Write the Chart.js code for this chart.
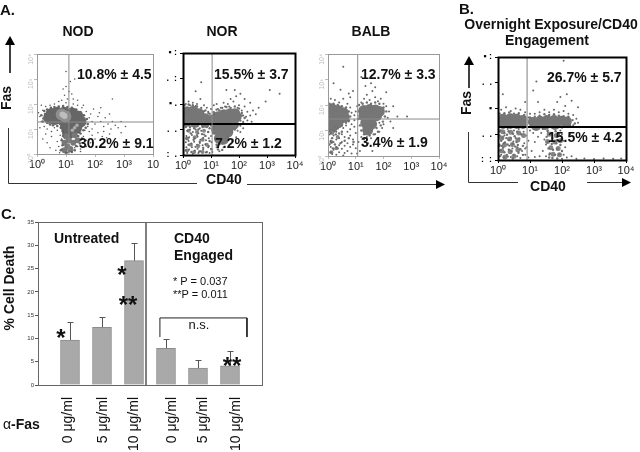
<!DOCTYPE html>
<html>
<head>
<meta charset="utf-8">
<script src="https://cdn.jsdelivr.net/npm/chart.js@4"></script>
<style>
  html, body { margin: 0; padding: 0; background: #fff; overflow: hidden; }
  #page { position: relative; width: 640px; height: 452px; overflow: hidden; font-family: "Liberation Sans", Arial, sans-serif; color: #111; }
  canvas { position: absolute; }
  svg { position: absolute; left: 0; top: 0; }
  .t { position: absolute; white-space: nowrap; transform: translateY(-50%); line-height: 1; }
  .c { transform: translate(-50%, -50%); }
  .b { font-weight: bold; }
  .pct { font-weight: bold; font-size: 14px; }
  .rot { transform: translate(-50%, -50%) rotate(-90deg); }
</style>
</head>
<body>
<div id="page">
  <canvas id="nod" width="160" height="132" style="left:7px;top:46px"></canvas>
  <canvas id="nor" width="156" height="134" style="left:153px;top:45px"></canvas>
  <canvas id="balb" width="155" height="134" style="left:298px;top:46px"></canvas>
  <canvas id="engaged" width="172" height="135" style="left:468px;top:49px"></canvas>
  <canvas id="death" width="264" height="238" style="left:8px;top:214px"></canvas>

  <svg width="640" height="452">
    <g stroke="#333" fill="none" stroke-width="1">
      <path d="M8.5 128V183.5H197"/>
      <path d="M247 184.5H438" stroke-width="1.2"/>
      <path d="M468.5 132V182.5H518"/>
      <path d="M587 182.5H623" stroke-width="1.2"/>
      <path d="M10 73V44" stroke="#000" stroke-width="1.5"/>
      <path d="M469 88V64" stroke="#000" stroke-width="1.5"/>
    </g>
    <g fill="#000">
      <path d="M10 36L5 45H15Z"/>
      <path d="M469 56L464 65H474Z"/>
      <path d="M445 184.5L436 180V189Z"/>
      <path d="M631 182.5L622 178V187Z"/>
    </g>
  </svg>

  <div class="t b" style="left:0;top:9px;font-size:15px">A.</div>
  <div class="t b c" style="left:78px;top:31px;font-size:14px">NOD</div>
  <div class="t b c" style="left:222px;top:31px;font-size:14px">NOR</div>
  <div class="t b c" style="left:371px;top:31px;font-size:14px">BALB</div>
  <div class="t b" style="left:459px;top:8px;font-size:15px">B.</div>
  <div class="t b c" style="left:551px;top:24px;font-size:14px">Overnight Exposure/CD40</div>
  <div class="t b c" style="left:547px;top:40px;font-size:14px">Engagement</div>

  <div class="t pct" style="left:77px;top:74px">10.8% ± 4.5</div>
  <div class="t pct" style="left:79px;top:143px">30.2% ± 9.1</div>
  <div class="t pct" style="left:214px;top:74px">15.5% ± 3.7</div>
  <div class="t pct" style="left:215px;top:143px">7.2% ± 1.2</div>
  <div class="t pct" style="left:361px;top:74px">12.7% ± 3.3</div>
  <div class="t pct" style="left:361px;top:142px">3.4% ± 1.9</div>
  <div class="t pct" style="left:547px;top:77px">26.7% ± 5.7</div>
  <div class="t pct" style="left:548px;top:137px">15.5% ± 4.2</div>

  <div class="t b rot" style="left:6px;top:98px;font-size:14px">Fas</div>
  <div class="t b rot" style="left:466px;top:103px;font-size:14px">Fas</div>
  <div class="t b c" style="left:224px;top:179px;font-size:14px">CD40</div>
  <div class="t b c" style="left:548px;top:186px;font-size:14px">CD40</div>

  <div class="t b" style="left:1px;top:213px;font-size:15px">C.</div>
  <div class="t b rot" style="left:9px;top:288px;font-size:14px">% Cell Death</div>
  <div class="t b" style="left:54px;top:238px;font-size:14px">Untreated</div>
  <div class="t b" style="left:174px;top:238px;font-size:14px">CD40</div>
  <div class="t b" style="left:174px;top:255px;font-size:14px">Engaged</div>
  <div class="t" style="left:173px;top:281px;font-size:11px">* P = 0.037</div>
  <div class="t" style="left:173px;top:294px;font-size:11px">**P = 0.011</div>
  <div class="t c" style="left:199px;top:324px;font-size:13px">n.s.</div>
  <div class="t c b" style="left:61px;top:338px;font-size:24px">*</div>
  <div class="t c b" style="left:122px;top:275px;font-size:24px">*</div>
  <div class="t c b" style="left:128px;top:305px;font-size:24px">**</div>
  <div class="t c b" style="left:232px;top:366px;font-size:24px">**</div>
  <div class="t" style="left:3px;top:424px;font-size:14px">α<span class="b">-Fas</span></div>
</div>

<script>
// Flow panels: positions are log10 decades on both axes
const decadeTicks = [0, 1, 2, 3, 4];
const xLabels = ["10⁰", "10¹", "10²", "10³", "10⁴"];
const nodXLabels = ["10⁰", "10¹", "10²", "10³", "10"];
const fadedYLabels = ["10⁰", "10¹", "10²", "10³", "10⁴"];
const norYLabels = [":  .", ".  .", "▪ .", ".  :", "▪ :"];
const engagedYLabels = [":  :", ".  .", "▪", ".  .", "▪ :"];

const nodGate = [1.1, 1.28];
const norGate = [1.04, 1.22];
const balbGate = [1.07, 1.45];
const engagedGate = [0.91, 1.28];

const nodCore = [[.5,1.6],[.69,1.65],[.93,1.65],[1.21,1.62],[1.4,1.5],[1.5,1.3],[.42,1.45],[.62,1.4],[.9,1.36],[1.17,1.32],[1.4,1.2],[1.17,1.04],[1.35,1.04],[1,1.12],[1.07,.84]];
const nodTail = [[1,.7],[1.1,.55],[.95,.45],[1.05,.3],[1.15,.2],[1.25,.45],[1.3,.75],[.95,.15],[1.4,.55]];
const nodHalo = [[.85,1.58],[.98,1.5]];
const nodLight = [[.88,1.58],[.95,1.52]];
const nodStreak = [[1.22,.95],[1.3,1.05],[1.38,1.15]];
const nodDense = [[.15,1.55],[.22,1.42],[.28,1.6],[.25,1.72],[.35,1.78],[.48,1.85],[.6,1.88],[.75,1.9],[.9,1.92],[1.05,1.88],[1.2,1.85],[1.35,1.78],[1.5,1.68],[1.62,1.55],[1.72,1.4],[1.75,1.2],[1.68,1.05],[1.6,.95],[1.5,.82],[1.42,.72],[1.35,.92],[.35,1.25],[.45,1.18],[.55,1.15],[.7,1.12],[.82,1.05],[.88,.92],[.9,.72],[.85,.55],[.88,.35],[.82,.15],[1.2,.08],[1.3,.15],[1.35,.32],[1.48,.42],[1.55,.62],[1,.05],[1.1,.1],[.2,1.3]];
const nodDots = [[1.05,2.2],[.95,2.35],[1.1,2.5],[1,2.7],[1.2,2.4],[.85,2.15],[1.15,2.9],[1.3,3],[1,3.3],[.9,2.6],[1.25,2.2],[.75,2.1],[1.4,2.15],[2.1,1.5],[2.2,1.3],[2.3,1.1],[2.35,1.45],[2.45,1.2],[2.5,1.6],[2.55,1],[2.6,1.3],[2.7,1.15],[2.8,1.05],[2.5,.8],[2.3,.9],[2.1,.85],[2.4,.65],[2.9,1.3],[1.9,1],[2,1.2],[1.85,1.6],[1.9,.75],[2.2,1.85],[2.6,2.2],[2.9,.85],[3.05,1.1],[.1,1.5],[.15,1.3],[.05,1.65],[.2,1.75],[.25,1.1],[.35,1],[.3,1.9],[.45,1.95],[.6,2],[.5,.9],[.7,.95],[.6,1.05],[.2,.6],[.35,.45],[.5,.7],[.45,.25],[.7,.5],[.75,.3],[.65,.15],[.8,.75],[.85,.6],[.85,.2],[.9,.9],[.78,.05],[1.2,.1],[1.3,.25],[1.4,.3],[1.5,.2],[1.55,.45],[1.6,.7],[1.7,.55],[1.8,.9],[1.65,.95],[1.75,1.1],[1.9,1.3],[1.8,1.45],[1.7,1.7],[1.55,1.85],[1.4,1.95],[1.25,2],[1,2.05],[.15,1.95],[.1,1.05],[.3,.8],[1.45,.85],[1.5,.1],[1.05,.05],[1.6,1.95],[1.95,1.8],[2.15,1.65],[2.25,.7],[1.7,.3],[1.85,.45],[2,.6],[1.2,.65]];

const norCore = [[.14,1.7],[.36,1.72],[.57,1.62],[.14,1.49],[.36,1.45],[.57,1.45],[.79,1.42],[.14,1.32],[.43,1.28],[.79,1.28],[1.04,1.37],[1.25,1.5],[1.46,1.58],[1.68,1.62],[1.85,1.62],[1.25,1.29],[1.5,1.37],[1.75,1.42],[1.9,1.5],[1.39,1.06],[1.64,1.12],[1.8,1.2],[1.2,1],[1.39,.82],[1.6,.9],[1.3,.65],[1.45,.62]];
const norMid = [[.2,.95],[.5,.9],[.75,.95],[.15,.65],[.42,.7],[.7,.6],[.28,.4],[.55,.35],[.85,.4],[.15,.18],[.4,.12],[.7,.12]];
const norDense = [[.05,1.95],[.2,1.98],[.35,1.95],[.5,1.9],[.65,1.85],[.8,1.75],[.95,1.62],[1.1,1.68],[1.2,1.78],[1.3,1.75],[1.4,1.85],[1.55,1.88],[1.7,1.85],[1.85,1.9],[2,1.82],[2.1,1.65],[2.2,1.45],[2.15,1.25],[2.05,1.35],[2.1,1.55],[1.98,1.2],[1.85,1],[1.75,.95],[1.6,.7],[1.55,.55],[1.4,.45],[1.3,.42],[1.2,.4],[1.15,.65],[1.08,.85],[1.1,1.1],[.95,1.05],[.85,1.1],[.7,1.1],[.55,1],[.4,1.05],[.25,1.1],[.1,1.1],[.05,1.3],[.05,1.6],[.9,.9],[.68,.82],[.5,.78],[.28,.85],[.12,.65],[.38,.6],[.6,.52],[.8,.75],[.95,.55],[.2,.4],[.45,.32],[.72,.28],[.92,.35],[.1,.18],[.3,.12],[.58,.14],[.85,.12],[1.02,.22],[1.25,.22],[1.4,.2]];
const norDots = [[.1,2],[.2,2.1],[.35,2.05],[.5,2],[.62,2.2],[.75,1.95],[.85,1.85],[.9,1.7],[1,1.8],[1.1,1.95],[1.2,2],[1.35,1.85],[1.45,2.05],[1.6,2],[1.7,2.2],[1.8,2.1],[1.9,2.3],[2,1.95],[2.1,1.75],[2.2,1.9],[2.3,1.7],[2.4,1.55],[2.5,1.75],[2.6,1.6],[2.7,1.85],[2.3,1.35],[2.15,1.3],[2.45,1.3],[2.2,2.2],[2.05,2.4],[1.55,2.55],[1.85,2.55],[2.4,2.05],[3.1,2.55],[3.45,2.4],[2.95,2.1],[.65,2.85],[.45,2.5],[.15,.95],[.25,1],[.35,.9],[.45,1],[.55,.85],[.65,.95],[.75,.8],[.9,.9],[1,.75],[.12,.75],[.22,.7],[.32,.78],[.42,.65],[.52,.72],[.62,.6],[.72,.68],[.82,.58],[.92,.66],[1.02,.5],[.1,.5],[.2,.55],[.3,.45],[.4,.52],[.5,.4],[.6,.47],[.7,.38],[.8,.42],[.9,.3],[1,.25],[1.05,.12],[.12,.3],[.22,.22],[.32,.3],[.42,.18],[.52,.25],[.62,.15],[.72,.22],[.82,.1],[.15,.08],[.35,.05],[.55,.08],[.95,.08],[1.2,.3],[1.3,.15],[1.45,.3],[1.75,.55],[1.9,.7],[2.05,.9],[2.15,1.05],[2.05,1.15],[1.95,.95],[.6,1.05],[1,1.15],[.9,1.65],[1.1,1.6],[.75,1.72],[1.65,1.9],[1.95,1.85],[2.15,1.55],[2.25,1.5],[.45,1.92],[.25,1.95],[1.25,1.8],[1.5,1.9]];

const balbCore = [[.14,1.85],[.36,1.78],[.55,1.7],[.14,1.61],[.36,1.53],[.58,1.52],[.14,1.33],[.36,1.3],[.14,1.1],[1.29,1.78],[1.5,1.82],[1.71,1.8],[1.85,1.75],[1.29,1.57],[1.54,1.57],[1.75,1.58],[1.36,1.29],[1.57,1.25],[1.43,1.02]];
const balbMid = [[.15,.9],[.35,.75],[.12,.55],[.3,.3],[.12,.15]];
const balbDense = [[.05,2.05],[.2,2.05],[.35,2],[.5,1.95],[.65,1.9],[.75,1.75],[.8,1.55],[.75,1.4],[.65,1.3],[.5,1.2],[.55,1.35],[.25,1.15],[1.12,2],[1.25,2.05],[1.4,2.1],[1.55,2.05],[1.7,2.1],[1.85,2.05],[2,1.9],[2.1,1.75],[2.05,1.55],[1.98,1.35],[1.9,1.2],[1.75,1.1],[1.8,.95],[1.65,.85],[1.5,.8],[1.3,.85],[1.2,1],[1.15,1.2],[1.1,1.45],[1.12,1.75],[.05,1],[.2,1],[.35,1.08],[.05,.85],[.15,.7],[.28,.85],[.05,.45],[.1,.15],[.25,.45],[.4,.88],[.12,.55],[.35,.3],[.18,.3],[.45,.5],[.6,.6],[.75,.7],[.92,.55],[.5,.95]];
const balbDots = [[.1,2.25],[.25,2.2],[.4,2.1],[.55,2.25],[.7,2.05],[.8,1.9],[.85,1.7],[.95,1.6],[.75,1.35],[.85,1.25],[.95,1.4],[.8,2.3],[.45,2.6],[.2,2.85],[.75,2.45],[.9,2.55],[1.2,2.1],[1.3,2.25],[1.4,2.4],[1.5,2.2],[1.6,2.55],[1.7,2.3],[1.8,2.15],[1.9,2.25],[2,2.05],[2.1,1.95],[2.2,1.75],[2.15,1.5],[2.25,1.35],[1.35,2.75],[1.55,2.85],[1.7,2.7],[2.35,1.95],[2.5,1.55],[2.85,1.55],[1.2,3.1],[.55,3.5],[2.1,2.5],[.1,.9],[.2,.8],[.3,.95],[.4,.7],[.5,.85],[.6,.75],[.7,.95],[.8,.8],[.9,.65],[1,.9],[.1,.6],[.2,.55],[.3,.65],[.4,.42],[.5,.55],[.6,.4],[.7,.5],[.8,.35],[.9,.45],[1,.3],[.1,.35],[.2,.25],[.3,.35],[.4,.15],[.5,.28],[.6,.12],[.7,.2],[.85,.1],[.15,.08],[.3,.05],[.55,.02],[1.05,.1],[1.2,.75],[1.3,.65],[1.4,.75],[1.55,.7],[1.7,.85],[1.85,.95],[1.95,1.1],[1.25,.45],[1.45,.5],[1.65,.4],[1.1,.55],[1.85,1.3],[2,1.25],[.55,1.1],[.65,1.2],[.8,1.05],[.95,1.15],[1,1.75],[1.05,1.95],[2.35,1.1],[1.6,.2],[1.15,.2]];

const engagedCore = [[.16,1.6],[.38,1.62],[.59,1.6],[.78,1.55],[.16,1.4],[.38,1.4],[.59,1.4],[.78,1.4],[1.09,1.48],[1.31,1.52],[1.53,1.55],[1.75,1.55],[1.97,1.52],[2.15,1.5],[1.19,1.32],[1.47,1.36],[1.78,1.36]];
const engagedMid = [[.15,1.1],[.4,1.08],[.65,1.05],[.12,.85],[.36,.82],[.62,.78],[.2,.58],[.45,.6],[.12,.35],[.38,.32],[.62,.4],[.22,.12],[.5,.15],[.8,.95],[1.6,1],[1.82,.95],[1.55,.72],[1.78,.7],[1.95,.75],[1.65,.48],[1.88,.45],[1.72,.22],[1.92,.2]];
const engagedDense = [[.08,1.15],[.2,1.05],[.33,1.12],[.47,1.02],[.6,1.1],[.72,1],[.05,.95],[.15,.88],[.28,.98],[.4,.86],[.52,.92],[.66,.84],[.1,.75],[.22,.68],[.34,.78],[.46,.62],[.58,.7],[.05,.55],[.16,.48],[.3,.6],[.42,.35],[.54,.52],[.7,.42],[.08,.38],[.2,.3],[.34,.4],[.5,.2],[.64,.28],[.78,.2],[.06,.15],[.18,.1],[.3,.14],[.46,.06],[.12,.55],[.26,.85],[.78,.55],[.9,.5],[.62,.58],[1.55,1.15],[1.65,1.05],[1.8,1.12],[1.9,1],[1.52,.9],[1.7,.85],[1.85,.9],[1.98,.8],[1.55,.7],[1.68,.62],[1.82,.65],[1.95,.58],[1.58,.45],[1.72,.4],[1.85,.42],[2,.35],[1.62,.25],[1.78,.2],[1.92,.22],[1.7,.08],[1.85,.06],[1.6,.1],[.05,1.8],[.2,1.82],[.35,1.85],[.5,1.8],[.65,1.82],[.82,1.75],[1,1.65],[1.15,1.68],[1.3,1.72],[1.45,1.78],[1.6,1.75],[1.75,1.78],[1.9,1.72],[2.05,1.7],[2.2,1.68],[2.33,1.55],[2.4,1.42],[2.25,1.35],[2.05,1.35],[1.95,1.3]];
const engagedDots = [[.1,1.95],[.25,2.05],[.4,1.9],[.55,2],[.7,1.95],[.85,1.85],[1,1.8],[.95,1.65],[1.15,1.8],[1.3,1.85],[1.45,1.95],[1.6,1.85],[1.75,1.95],[1.9,1.85],[2.05,1.9],[2.2,1.8],[2.35,1.75],[2.45,1.6],[2.5,1.45],[2.35,1.35],[2.2,1.3],[2,1.25],[2.1,2.1],[1.85,2.25],[1.95,2.45],[2.15,2.55],[1.25,2.25],[1.1,2.7],[1.2,3.05],[.15,2.55],[.85,2.25],[2.5,2.05],[2.3,2.3],[2.05,3.85],[.05,1.1],[.2,.95],[.3,1.2],[.5,1.15],[.55,.85],[.65,1.2],[.8,1.1],[.9,.95],[1,1.15],[1.1,1.05],[.95,.75],[.82,.65],[.85,.45],[.6,.5],[.45,.45],[.35,.55],[.28,.2],[.05,.6],[.1,.2],[.4,.12],[.6,.15],[.7,.08],[.85,.2],[.95,.1],[1.05,.35],[1.15,.7],[1.25,.9],[1.35,1.05],[1.45,.8],[1.5,.6],[1.4,.35],[1.5,.15],[1.55,1.1],[2,1],[2.05,.75],[2.1,.5],[2.05,.2],[2,.05],[2.15,.1],[2.3,.15],[2.45,.05],[2.7,.06],[3,.04],[3.3,.06],[3.6,.05],[3.85,.06],[1.3,.15],[1.15,.12],[.75,.35],[.18,.65],[.48,.72],[1.6,.2],[1.95,1.15],[2.25,1],[1.65,.75],[1.4,1.2]];

// Panel C
const barPositions = [1, 2, 3, 4, 5, 6];
const cellDeath = [9.66, 12.4, 26.7, 7.9, 3.65, 4.1];
const cellDeathTop = [13.5, 14.5, 30.5, 9.9, 5.4, 7.3];
const dosePositions = [0.95, 2.05, 3, 4.2, 5.15, 6.2];
const doseLabels = ["0 μg/ml", "5 μg/ml", "10 μg/ml", "0 μg/ml", "5 μg/ml", "10 μg/ml"];
const dividerX = [3.375, 3.375];
const dividerY = [0, 35];
const bracketX = [3.81, 3.81, 6.53, 6.53];
const bracketY = [10.3, 14.4, 14.4, 10.3];

function toPoints(list) {
  return list.map(p => ({ x: p[0], y: p[1] }));
}

function zip(xs, ys) {
  return xs.map((x, i) => ({ x: x, y: ys[i] }));
}

// Axes get a fixed size so the plot area is known, and tick labels stay inside the clip
function fixedAxis(size) {
  return scale => {
    if (scale.isHorizontal()) scale.height = size; else scale.width = size;
    scale.paddingLeft = scale.paddingRight = scale.paddingTop = scale.paddingBottom = 0;
  };
}

// Draws the box around the plot
const framePlugin = {
  id: "frame",
  afterDraw(chart, args, opts) {
    const a = chart.chartArea, ctx = chart.ctx;
    ctx.save();
    ctx.strokeStyle = opts.color;
    ctx.lineWidth = opts.width;
    ctx.strokeRect(a.left + 0.5, a.top + 0.5, a.right - a.left, a.bottom - a.top);
    ctx.restore();
  }
};
Chart.register(framePlugin);

// Error bars from the value to the upper limit
const errorBarPlugin = {
  id: "errorBars",
  afterDatasetsDraw(chart) {
    if (chart.canvas.id !== "death") return;
    const ctx = chart.ctx, x = chart.scales.x, y = chart.scales.y;
    ctx.save();
    ctx.strokeStyle = "#555";
    ctx.lineWidth = 1;
    barPositions.forEach((pos, i) => {
      const px = Math.round(x.getPixelForValue(pos)) + 0.5;
      const y0 = y.getPixelForValue(cellDeath[i]);
      const y1 = Math.round(y.getPixelForValue(cellDeathTop[i])) + 0.5;
      ctx.beginPath();
      ctx.moveTo(px, y0);
      ctx.lineTo(px, y1);
      ctx.moveTo(px - 3, y1);
      ctx.lineTo(px + 3, y1);
      ctx.stroke();
    });
    ctx.restore();
  }
};
Chart.register(errorBarPlugin);

function gateLines(gate, vColor, vWidth, hColor, hWidth) {
  return [
    { data: zip([gate[0], gate[0]], [0, 4]), showLine: true, pointRadius: 0, borderColor: vColor, borderWidth: vWidth },
    { data: zip([0, 4], [gate[1], gate[1]]), showLine: true, pointRadius: 0, borderColor: hColor, borderWidth: hWidth }
  ];
}

function dots(list, color, radius) {
  return { data: toPoints(list), pointRadius: radius, pointBackgroundColor: color, pointBorderWidth: 0 };
}

function flowChart(id, datasets, cfg) {
  new Chart(id, {
    type: "scatter",
    data: { datasets: datasets },
    options: {
      responsive: false,
      animation: false,
      layout: { padding: { left: 0, right: 14, top: 8, bottom: 0 } },
      plugins: {
        legend: { display: false },
        tooltip: { enabled: false },
        frame: { color: cfg.frameColor, width: cfg.frameWidth }
      },
      scales: {
        x: {
          type: "linear", min: 0, max: 4,
          afterBuildTicks: s => { s.ticks = decadeTicks.map(v => ({ value: v })); },
          afterFit: fixedAxis(24),
          grid: { display: true, drawOnChartArea: false, tickLength: 3, tickColor: cfg.tickColor },
          border: { display: false },
          ticks: {
            color: "#222", font: { family: "Liberation Sans", size: 11 }, padding: 1, maxRotation: 0,
            callback: (v, i) => cfg.xLabels[i]
          }
        },
        y: {
          type: "linear", min: 0, max: 4,
          afterBuildTicks: s => { s.ticks = decadeTicks.map(v => ({ value: v })); },
          afterFit: fixedAxis(30),
          grid: { display: true, drawOnChartArea: false, tickLength: 3, tickColor: cfg.tickColor },
          border: { display: false },
          ticks: {
            color: cfg.yColor, font: { family: "Liberation Sans", size: cfg.ySize, weight: cfg.yWeight }, padding: cfg.yPad, minRotation: cfg.yRot, maxRotation: cfg.yRot,
            callback: (v, i) => cfg.yLabels[i]
          }
        }
      }
    }
  });
}

const coreGray = "#767676";
const midGray = "#858585";

flowChart("nod", [
  ...gateLines(nodGate, "#8a8a8a", 1, "#8a8a8a", 1),
  dots(nodLight, "#bdbdbd", 3),
  dots(nodHalo, "#8f8f8f", 6),
  dots(nodStreak, "#aaaaaa", 1.8),
  dots(nodDots, "#555", 0.8),
  dots(nodDense, "#666", 1.3),
  dots(nodTail, "#787878", 3),
  dots(nodCore, "#666666", 6)
], { frameColor: "#999", frameWidth: 1, tickColor: "#bbb",
  xLabels: nodXLabels, yLabels: fadedYLabels, yColor: "#bbb", ySize: 7, yWeight: "normal", yPad: 3, yRot: 90 });

flowChart("nor", [
  ...gateLines(norGate, "#888", 1, "#000", 2),
  dots(norDots, "#666", 1),
  dots(norDense, "#707070", 1.2),
  dots(norMid, midGray, 2),
  dots(norCore, coreGray, 5.5)
], { frameColor: "#000", frameWidth: 2, tickColor: "#000",
  xLabels: xLabels, yLabels: norYLabels, yColor: "#000", ySize: 9, yWeight: "bold", yPad: 3, yRot: 0 });

flowChart("balb", [
  ...gateLines(balbGate, "#8a8a8a", 1, "#8a8a8a", 1),
  dots(balbDots, "#666", 1),
  dots(balbDense, "#707070", 1.2),
  dots(balbMid, midGray, 2),
  dots(balbCore, coreGray, 5.5)
], { frameColor: "#999", frameWidth: 1, tickColor: "#bbb",
  xLabels: xLabels, yLabels: fadedYLabels, yColor: "#bbb", ySize: 7, yWeight: "normal", yPad: 3, yRot: 90 });

flowChart("engaged", [
  ...gateLines(engagedGate, "#aaa", 1.5, "#000", 2),
  dots(engagedDots, "#666", 1),
  dots(engagedDense, "#707070", 1.2),
  dots(engagedMid, midGray, 2.5),
  dots(engagedCore, coreGray, 5)
], { frameColor: "#000", frameWidth: 2, tickColor: "#000",
  xLabels: xLabels, yLabels: engagedYLabels, yColor: "#000", ySize: 9, yWeight: "bold", yPad: 3, yRot: 0 });

new Chart("death", {
  type: "bar",
  data: {
    datasets: [
      { type: "line", data: zip(dividerX, dividerY), borderColor: "#555", borderWidth: 1.5, pointRadius: 0 },
      { type: "line", data: zip(bracketX, bracketY), borderColor: "#222", borderWidth: 1, pointRadius: 0 },
      { data: zip(barPositions, cellDeath), backgroundColor: "#a9a9a9", borderColor: "#8c8c8c", borderWidth: 1, barThickness: 19 }
    ]
  },
  options: {
    responsive: false,
    animation: false,
    layout: { padding: { left: 0, right: 10, top: 8, bottom: 0 } },
    plugins: {
      legend: { display: false },
      tooltip: { enabled: false },
      frame: { color: "#666", width: 1 }
    },
    scales: {
      x: {
        type: "linear", min: 0, max: 7, offset: false,
        afterBuildTicks: s => { s.ticks = dosePositions.map(v => ({ value: v })); },
        afterFit: fixedAxis(67),
        grid: { display: false, drawTicks: false },
        border: { display: false },
        ticks: {
          color: "#111", font: { family: "Liberation Sans", size: 14 }, padding: 12, autoSkip: false, minRotation: 90, maxRotation: 90,
          callback: (v, i) => doseLabels[i]
        }
      },
      y: {
        min: 0, max: 35,
        afterFit: fixedAxis(30),
        grid: { display: true, drawOnChartArea: false, tickLength: 3, tickColor: "#555" },
        border: { display: false },
        ticks: { stepSize: 5, color: "#333", font: { family: "Liberation Sans", size: 6 }, padding: 1 }
      }
    }
  }
});
</script>
</body>
</html>
